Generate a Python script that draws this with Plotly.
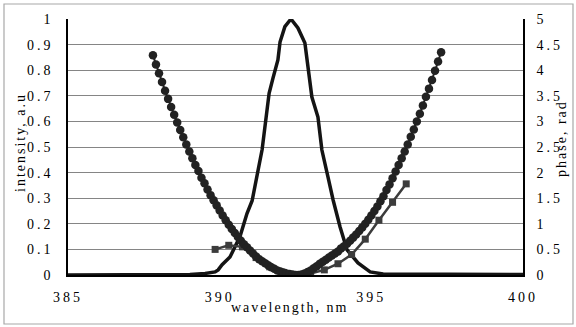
import plotly.graph_objects as go

# ---- data ----
int_wl = [385.0, 389.02, 389.52, 389.85, 389.95, 390.08, 390.34, 390.67, 390.90, 391.07,
          391.40, 391.56, 391.63, 391.76, 391.92, 391.99, 392.15, 392.35, 392.58, 392.81,
          392.91, 393.04, 393.24, 393.37, 393.57, 393.74, 393.97, 394.20, 394.56, 394.96,
          395.39, 400.0]
intensity = [0.0, 0.002, 0.006, 0.012, 0.02, 0.04, 0.07, 0.15, 0.24, 0.29,
             0.49, 0.63, 0.71, 0.77, 0.84, 0.91, 0.97, 1.0, 0.965, 0.906,
             0.81, 0.695, 0.617, 0.488, 0.383, 0.293, 0.1875, 0.098, 0.047, 0.012,
             0.004, 0.002]

dot_wl = [387.8, 387.9, 388.0, 388.1, 388.2, 388.3, 388.4, 388.5, 388.6, 388.7,
          388.8, 388.9, 389.0, 389.1, 389.2, 389.3, 389.4, 389.5, 389.6, 389.7,
          389.8, 389.9, 390.0, 390.1, 390.2, 390.3, 390.4, 390.5, 390.6, 390.7,
          390.8, 390.9, 391.0, 391.1, 391.2, 391.3, 391.4, 391.5, 391.6, 391.7,
          391.8, 391.9, 392.0, 392.1, 392.2, 392.3, 392.4, 392.5, 392.6, 392.7,
          392.8, 392.9, 393.0, 393.1, 393.2, 393.3, 393.4, 393.5, 393.6, 393.7,
          393.8, 393.9, 394.0, 394.1, 394.2, 394.3, 394.4, 394.5, 394.6, 394.7,
          394.8, 394.9, 395.0, 395.1, 395.2, 395.3, 395.4, 395.5, 395.6, 395.7,
          395.8, 395.9, 396.0, 396.1, 396.2, 396.3, 396.4, 396.5, 396.6, 396.7,
          396.8, 396.9, 397.0, 397.1, 397.2, 397.3]
dot_phase = [4.29, 4.11, 3.94, 3.77, 3.60, 3.44, 3.28, 3.13, 2.98, 2.83,
             2.69, 2.55, 2.41, 2.28, 2.15, 2.03, 1.90, 1.79, 1.67, 1.56,
             1.46, 1.36, 1.26, 1.16, 1.07, 0.98, 0.90, 0.82, 0.74, 0.67,
             0.60, 0.54, 0.48, 0.42, 0.36, 0.31, 0.27, 0.23, 0.19, 0.15,
             0.12, 0.09, 0.07, 0.05, 0.03, 0.02, 0.01, 0.00, 0.00, 0.01,
             0.03, 0.06, 0.09, 0.13, 0.17, 0.22, 0.26, 0.30, 0.34, 0.38,
             0.42, 0.46, 0.52, 0.56, 0.61, 0.67, 0.73, 0.79, 0.86, 0.93,
             1.00, 1.08, 1.16, 1.25, 1.34, 1.44, 1.54, 1.66, 1.77, 1.89,
             2.02, 2.15, 2.28, 2.41, 2.55, 2.70, 2.84, 3.00, 3.15, 3.31,
             3.48, 3.64, 3.81, 3.99, 4.17, 4.35]

sq_wl = [389.85, 390.30, 390.75, 391.20, 391.65, 392.10, 392.55, 393.00, 393.45,
         393.90, 394.35, 394.80, 395.25, 395.70, 396.15]
sq_phase = [0.50, 0.58, 0.55, 0.34, 0.16, 0.05, 0.00, 0.03, 0.10,
            0.22, 0.40, 0.70, 1.07, 1.42, 1.78]

left_ticks = [0, 0.1, 0.2, 0.3, 0.4, 0.5, 0.6, 0.7, 0.8, 0.9, 1]
right_ticks = [0, 0.5, 1, 1.5, 2, 2.5, 3, 3.5, 4, 4.5, 5]
x_ticks = [385, 390, 395, 400]

FONT = "Liberation Serif"

fig = go.Figure()
fig.add_trace(go.Scatter(x=sq_wl, y=sq_phase, yaxis="y2", mode="lines+markers",
                         line=dict(color="#3c3c3c", width=2.5),
                         marker=dict(symbol="square", size=7, color="#3c3c3c"),
                         showlegend=False))
fig.add_trace(go.Scatter(x=dot_wl, y=dot_phase, yaxis="y2", mode="lines+markers",
                         line=dict(color="#222222", width=2),
                         marker=dict(symbol="circle", size=8.5, color="#222222"),
                         showlegend=False))
fig.add_trace(go.Scatter(x=int_wl, y=intensity, mode="lines",
                         line=dict(color="#141414", width=3.5),
                         showlegend=False))

fig.update_layout(
    width=576, height=327,
    margin=dict(l=68, r=53, t=19, b=52),
    paper_bgcolor="white", plot_bgcolor="white",
    font=dict(family=FONT, size=14, color="black"),
    xaxis=dict(range=[385, 400], tickvals=x_ticks, showgrid=False, zeroline=False,
               showline=True, linecolor="black", linewidth=2, ticks="",
               ticklabelstandoff=8, tickfont=dict(family=FONT, size=14)),
    yaxis=dict(range=[0, 1], tickvals=left_ticks, showgrid=True, gridcolor="#858585",
               gridwidth=1, zeroline=False, showline=True, linecolor="black",
               linewidth=1.5, ticks="", ticklabelstandoff=10,
               tickfont=dict(family=FONT, size=14)),
    yaxis2=dict(range=[0, 5], tickvals=right_ticks, overlaying="y", side="right",
                showgrid=False, zeroline=False, showline=True, linecolor="black",
                linewidth=1.5, ticks="", ticklabelstandoff=9,
                tickfont=dict(family=FONT, size=14)),
    shapes=[dict(type="rect", xref="paper", yref="paper",
                 x0=(4 - 68) / 455, x1=(573 - 68) / 455,
                 y0=(275 - 324) / 256, y1=(275 - 4) / 256,
                 line=dict(color="#a8a8a8", width=1.2), layer="below")],
    annotations=[
        dict(text="wavelength, nm", xref="paper", yref="paper",
             x=(290 - 68) / 455, y=(275 - 307) / 256, showarrow=False,
             xanchor="center", yanchor="middle", font=dict(family=FONT, size=14)),
        dict(text="intensity, a.u", xref="paper", yref="paper",
             x=(20 - 68) / 455, y=(275 - 143) / 256, showarrow=False, textangle=-90,
             xanchor="center", yanchor="middle", font=dict(family=FONT, size=14)),
        dict(text="phase, rad", xref="paper", yref="paper",
             x=(561 - 68) / 455, y=(275 - 139) / 256, showarrow=False, textangle=-90,
             xanchor="center", yanchor="middle", font=dict(family=FONT, size=14)),
    ],
)

post = """
document.querySelectorAll('.xtick text, .ytick text, .y2tick text').forEach(function(t){t.setAttribute('letter-spacing','3px');});
document.querySelectorAll('.annotation-text').forEach(function(t){t.setAttribute('letter-spacing','2px');});
"""
fig.write_html("out.html", post_script=post)
